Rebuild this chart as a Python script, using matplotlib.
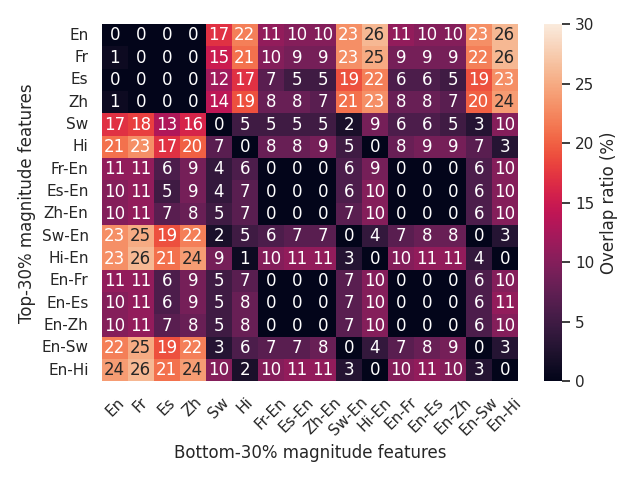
import matplotlib
matplotlib.use("Agg")
import matplotlib.pyplot as plt
import numpy as np
import seaborn as sns

labels = ["En", "Fr", "Es", "Zh", "Sw", "Hi", "Fr-En", "Es-En", "Zh-En",
          "Sw-En", "Hi-En", "En-Fr", "En-Es", "En-Zh", "En-Sw", "En-Hi"]

# rows: top-30% features, columns: bottom-30% features
row_en = [0, 0, 0, 0, 17, 22, 11, 10, 10, 23, 26, 11, 10, 10, 23, 26]
row_fr = [1, 0, 0, 0, 15, 21, 10, 9, 9, 23, 25, 9, 9, 9, 22, 26]
row_es = [0, 0, 0, 0, 12, 17, 7, 5, 5, 19, 22, 6, 6, 5, 19, 23]
row_zh = [1, 0, 0, 0, 14, 19, 8, 8, 7, 21, 23, 8, 8, 7, 20, 24]
row_sw = [17, 18, 13, 16, 0, 5, 5, 5, 5, 2, 9, 6, 6, 5, 3, 10]
row_hi = [21, 23, 17, 20, 7, 0, 8, 8, 9, 5, 0, 8, 9, 9, 7, 3]
row_fr_en = [11, 11, 6, 9, 4, 6, 0, 0, 0, 6, 9, 0, 0, 0, 6, 10]
row_es_en = [10, 11, 5, 9, 4, 7, 0, 0, 0, 6, 10, 0, 0, 0, 6, 10]
row_zh_en = [10, 11, 7, 8, 5, 7, 0, 0, 0, 7, 10, 0, 0, 0, 6, 10]
row_sw_en = [23, 25, 19, 22, 2, 5, 6, 7, 7, 0, 4, 7, 8, 8, 0, 3]
row_hi_en = [23, 26, 21, 24, 9, 1, 10, 11, 11, 3, 0, 10, 11, 11, 4, 0]
row_en_fr = [11, 11, 6, 9, 5, 7, 0, 0, 0, 7, 10, 0, 0, 0, 6, 10]
row_en_es = [10, 11, 6, 9, 5, 8, 0, 0, 0, 7, 10, 0, 0, 0, 6, 11]
row_en_zh = [10, 11, 7, 8, 5, 8, 0, 0, 0, 7, 10, 0, 0, 0, 6, 10]
row_en_sw = [22, 25, 19, 22, 3, 6, 7, 7, 8, 0, 4, 7, 8, 9, 0, 3]
row_en_hi = [24, 26, 21, 24, 10, 2, 10, 11, 11, 3, 0, 10, 11, 10, 3, 0]

matrix = np.array([row_en, row_fr, row_es, row_zh, row_sw, row_hi,
                   row_fr_en, row_es_en, row_zh_en, row_sw_en, row_hi_en,
                   row_en_fr, row_en_es, row_en_zh, row_en_sw, row_en_hi])

sns.set_theme(style="white")
fig, ax = plt.subplots(figsize=(6.4, 4.8), dpi=100)
sns.heatmap(matrix, annot=True, fmt="d", vmin=0, vmax=30,
            xticklabels=labels, yticklabels=labels, ax=ax,
            cbar_kws={"label": "Overlap ratio (%)"})
ax.set_xlabel("Bottom-30% magnitude features")
ax.set_ylabel("Top-30% magnitude features")
plt.xticks(rotation=45)
plt.yticks(rotation=0)
plt.tight_layout()
plt.savefig("out.png")
